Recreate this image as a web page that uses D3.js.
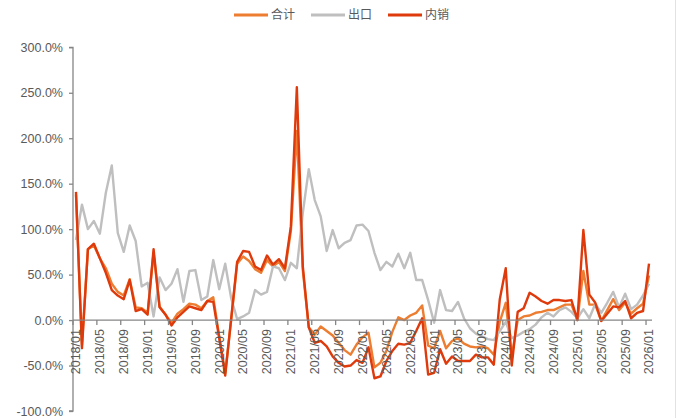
<!DOCTYPE html>
<html>
<head>
<meta charset="utf-8">
<script src="https://cdn.jsdelivr.net/npm/d3@7/dist/d3.min.js"></script>
<style>
  html, body { margin: 0; padding: 0; background: #fff; }
  svg { display: block; }
</style>
</head>
<body>
<svg id="chart" width="679" height="418"></svg>
<script>
// ---- data ----
const months = [];
for (let y = 2018; y <= 2026; y++) {
  for (let m = 1; m <= 12; m++) {
    if (y === 2026 && m > 1) break;
    months.push(y + "/" + String(m).padStart(2, "0"));
  }
}
const seriesNames = ["合计", "出口", "内销"];
const totalValues = [138,-27,78,82,68,57,40,31,27,45,14,13,8,74,15,6,-3,7,12,18,17,13,21,25,-18,-58,0,62,70,65,56,52,66,59,64,54,98,208,55,-8,-16,-7,-12,-17,-25,-33,-38,-27,-19,-14,-52,-47,-34,-13,3,0,5,8,16,-28,-31,-12,-31,-23,-20,-26,-29,-30,-29,-31,-38,-2,19,-40,0,4,5,8,9,11,11,14,17,17,0,54,17,17,-1,11,23,11,19,7,13,18,49];
const exportValues = [88,127,100,109,95,140,170,96,75,104,87,37,41,4,47,33,40,56,20,54,55,22,26,66,34,62,24,1,4,8,33,28,31,59,57,44,63,57,118,166,132,114,76,99,79,85,88,104,105,98,74,55,64,59,73,57,74,44,44,22,-3,33,11,10,20,2,-9,-15,-18,-21,-22,-12,-2,-20,-17,-13,-10,-5,3,8,4,11,14,9,2,12,2,18,8,19,31,14,29,12,17,27,40];
const domesticValues = [141,-31,78,84,68,52,33,27,23,44,10,12,6,78,14,6,-6,3,9,15,13,11,21,20,-20,-61,2,64,76,75,59,55,71,61,67,57,103,256,59,-8,-25,-23,-29,-40,-47,-51,-50,-44,-47,-30,-64,-62,-45,-34,-26,-27,-25,-12,2,-60,-58,-32,-48,-40,-45,-45,-45,-38,-41,-41,-49,23,57,-50,9,13,30,26,21,18,22,22,21,22,0,99,28,19,-1,7,15,14,21,2,8,10,62];
const yTicks = [-100, -50, 0, 50, 100, 150, 200, 250, 300];
const xTickEvery = 4;

// ---- chart ----
const svg = d3.select("#chart");
const colors = { "合计": "#ED7D31", "出口": "#BFBFBF", "内销": "#DF3A0C" };
const plotL = 73, plotR = 652, plotT = 47.3, plotB = 411;

const x = d3.scaleBand().domain(months).range([plotL, plotR]).paddingInner(0).paddingOuter(0);
const y = d3.scaleLinear().domain([-100, 300]).range([plotB, plotT]);
const cx = d => x(d) + x.bandwidth() / 2;

// yellow edge line (as in reference)
svg.append("line").attr("x1", 675.5).attr("x2", 675.5).attr("y1", 0).attr("y2", 418)
  .attr("stroke", "#FFFF00").attr("stroke-width", 1);

// y axis
const yAxis = d3.axisLeft(y).tickValues(yTicks).tickSize(4).tickPadding(6)
  .tickFormat(d => d.toFixed(1) + "%");
const gy = svg.append("g").attr("transform", `translate(${plotL},0)`).call(yAxis);
gy.select(".domain").attr("stroke", "#868686").attr("stroke-width", 1.3).attr("d", `M-4,${y(300)}H0V${y(-100)}H-4`);
gy.selectAll(".tick line").attr("stroke", "#868686").attr("stroke-width", 1.3);
gy.selectAll(".tick text").attr("fill", "#595959")
  .style("font-family", "'Liberation Sans', Arial, sans-serif").style("font-size", "12.5px");

// lines
const series = [
  { name: "合计", values: totalValues },
  { name: "出口", values: exportValues },
  { name: "内销", values: domesticValues }
];
const line = d3.line().x((d, i) => cx(months[i])).y(d => y(d));
series.forEach(s => {
  svg.append("path").datum(s.values).attr("d", line)
    .attr("fill", "none").attr("stroke", colors[s.name])
    .attr("stroke-width", 2.4).attr("stroke-linejoin", "round").attr("stroke-linecap", "butt");
});

// x axis (at 0)
const xTickVals = months.filter((d, i) => i % xTickEvery === 0);
const xAxis = d3.axisBottom(x).tickValues(xTickVals).tickSize(0).tickPadding(0);
const gx = svg.append("g").attr("transform", `translate(0,${y(0)})`).call(xAxis);
gx.select(".domain").attr("stroke", "#868686").attr("stroke-width", 1.3).attr("d", `M${plotL},0H${plotR}`);
gx.selectAll(".tick").each(function () {
  const t = d3.select(this);
  t.select("line").attr("stroke", "#868686").attr("stroke-width", 1.3)
    .attr("x1", -x.bandwidth() / 2).attr("x2", -x.bandwidth() / 2).attr("y1", 0).attr("y2", 5);
  t.select("text").attr("fill", "#595959")
    .style("font-family", "'Liberation Sans', Arial, sans-serif").style("font-size", "12.5px")
    .attr("text-anchor", "end").attr("transform", "translate(0,9) rotate(-90)")
    .attr("x", 0).attr("y", 0).attr("dy", "0.35em");
});

// legend
const legendX = [234, 311, 388];
const lg = svg.append("g");
series.forEach((s, i) => {
  lg.append("line").attr("x1", legendX[i]).attr("x2", legendX[i] + 34).attr("y1", 15).attr("y2", 15)
    .attr("stroke", colors[s.name]).attr("stroke-width", 3);
  lg.append("text").attr("x", legendX[i] + 37).attr("y", 15).attr("dy", "0.36em")
    .attr("fill", "#595959").style("font-family", "'Noto Sans CJK SC', sans-serif").style("font-size", "12px")
    .text(s.name);
});
</script>
</body>
</html>
